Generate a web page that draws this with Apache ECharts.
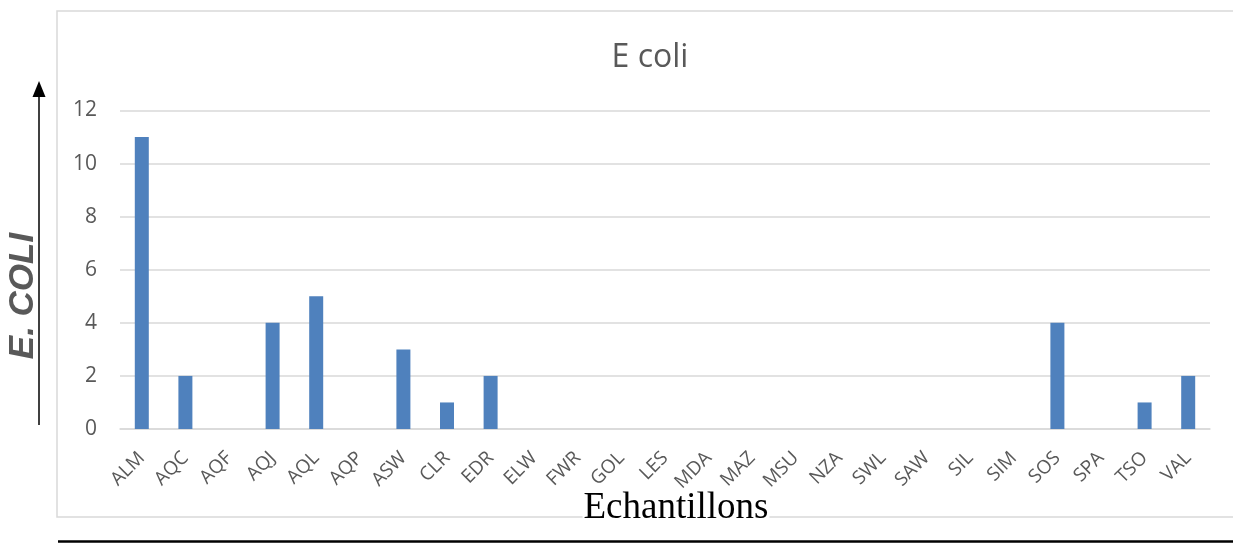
<!DOCTYPE html>
<html>
<head>
<meta charset="utf-8">
<script src="https://cdn.jsdelivr.net/npm/echarts@6/dist/echarts.min.js"></script>
<style>html,body{margin:0;padding:0;background:#fff;}#c{width:1233px;height:545px;}</style>
</head>
<body>
<div id="c"></div>
<script>
var categories = ['ALM','AQC','AQF','AQJ','AQL','AQP','ASW','CLR','EDR','ELW','FWR','GOL','LES','MDA','MAZ','MSU','NZA','SWL','SAW','SIL','SIM','SOS','SPA','TSO','VAL'];
var values = [11,2,0,4,5,0,3,1,2,0,0,0,0,0,0,0,0,0,0,0,0,4,0,1,2];
var yTicks = [0,2,4,6,8,10,12];
var titleText = 'E coli';
var xTitle = 'Echantillons';
var yTitle = 'E. COLI';

var chart = echarts.init(document.getElementById('c'), null, {renderer:'canvas'});
chart.setOption({
  animation:false,
  backgroundColor:'#fff',
  title:{text:titleText, left:645, top:37, textAlign:'center',
    textStyle:{fontFamily:'Open Sans', fontSize:32, fontWeight:'normal', color:'#595959'}},
  grid:{left:120, right:23, top:110.5, bottom:116, containLabel:false, outerBoundsMode:'none'},
  xAxis:{type:'category', data:categories,
    axisLine:{show:true, lineStyle:{color:'#d9d9d9', width:1.5}},
    axisTick:{show:false},
    axisLabel:{rotate:45, interval:0, margin:26, fontFamily:'Open Sans', fontSize:19, color:'#595959'}
  },
  yAxis:{type:'value', min:0, max:12, interval:2,
    axisLine:{show:false}, axisTick:{show:false},
    splitLine:{lineStyle:{color:'#d9d9d9', width:1.5}},
    axisLabel:{margin:23, fontFamily:'Open Sans', fontSize:21, color:'#595959',
      formatter:function(v){return yTicks.indexOf(v)>=0? String(v):'';}}
  },
  series:[{type:'bar', data:values, barWidth:14, itemStyle:{color:'#4f81bd'}}],
  graphic:[
    {type:'rect', z:-10, shape:{x:57, y:11, width:1200, height:506}, style:{fill:'none', stroke:'#d9d9d9', lineWidth:1.5}},
    {type:'line', shape:{x1:39, y1:425, x2:39, y2:95}, style:{stroke:'#000', lineWidth:1.5}},
    {type:'polygon', shape:{points:[[32.5,97],[45.5,97],[39,81]]}, style:{fill:'#000'}},
    {type:'line', shape:{x1:58, y1:541.5, x2:1233, y2:541.5}, style:{stroke:'#000', lineWidth:2.5}},
    {type:'text', x:23, y:296, rotation:Math.PI/2, z:10,
      style:{text:yTitle, align:'center', verticalAlign:'middle', fontFamily:'Liberation Sans', fontSize:35, fontWeight:'bold', fontStyle:'italic', fill:'#595959'}},
    {type:'text', x:676, y:508, z:10,
      style:{text:xTitle, align:'center', verticalAlign:'middle', fontFamily:'Liberation Serif', fontSize:37, fill:'#000', backgroundColor:'#fff', padding:[0,1,0,1]}}
  ]
});
</script>
</body>
</html>
